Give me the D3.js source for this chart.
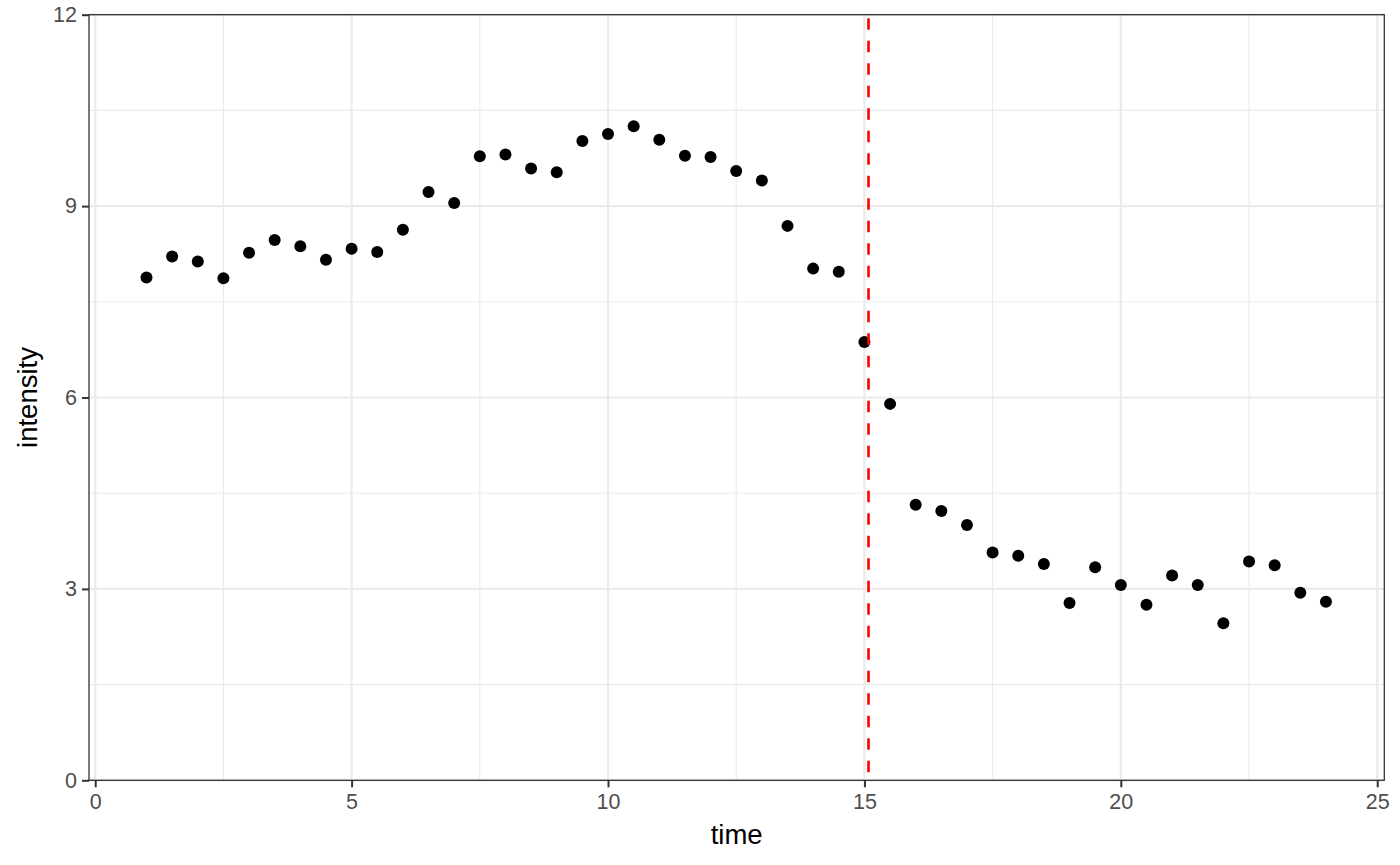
<!DOCTYPE html>
<html>
<head>
<meta charset="utf-8">
<script src="https://cdn.jsdelivr.net/npm/d3@7"></script>
<style>
  html, body { margin: 0; padding: 0; background: #fff; }
  svg { display: block; font-family: "Liberation Sans", Arial, Helvetica, sans-serif; }
</style>
</head>
<body>
<svg id="chart" width="1400" height="865"></svg>
<script>
// ---- data ----
const times = [1, 1.5, 2, 2.5, 3, 3.5, 4, 4.5, 5, 5.5, 6, 6.5, 7, 7.5, 8, 8.5, 9, 9.5,
  10, 10.5, 11, 11.5, 12, 12.5, 13, 13.5, 14, 14.5, 15, 15.5, 16, 16.5, 17, 17.5,
  18, 18.5, 19, 19.5, 20, 20.5, 21, 21.5, 22, 22.5, 23, 23.5, 24];
const intensity = [7.88, 8.21, 8.13, 7.87, 8.27, 8.47, 8.37, 8.16, 8.33, 8.28, 8.63, 9.22, 9.05, 9.78, 9.81, 9.59, 9.53, 10.02,
  10.13, 10.25, 10.04, 9.79, 9.77, 9.55, 9.40, 8.69, 8.02, 7.97, 6.87, 5.90, 4.32, 4.22, 4.00, 3.57,
  3.52, 3.39, 2.78, 3.34, 3.06, 2.75, 3.21, 3.06, 2.46, 3.43, 3.37, 2.94, 2.80];
const changepoint = [15.08];
const xTicks = [0, 5, 10, 15, 20, 25];
const xMinor = [2.5, 7.5, 12.5, 17.5, 22.5];
const yTicks = [0, 3, 6, 9, 12];
const yMinor = [1.5, 4.5, 7.5, 10.5];
const xTitle = "time";
const yTitle = "intensity";

// ---- layout ----
const svg = d3.select("#chart");
const L = 89, R = 1384.3, T = 14.7, B = 780.3;
const x = d3.scaleLinear().domain([-0.121, 25.138]).range([L, R]);
const y = d3.scaleLinear().domain([0, 12]).range([B, T]);

// grid
const g = svg.append("g");
g.selectAll(".xmin").data(xMinor).enter().append("line")
  .attr("x1", d => x(d)).attr("x2", d => x(d)).attr("y1", T).attr("y2", B)
  .attr("stroke", "#EBEBEB").attr("stroke-width", 1.1);
g.selectAll(".ymin").data(yMinor).enter().append("line")
  .attr("y1", d => y(d)).attr("y2", d => y(d)).attr("x1", L).attr("x2", R)
  .attr("stroke", "#EBEBEB").attr("stroke-width", 1.1);
g.selectAll(".xmaj").data(xTicks).enter().append("line")
  .attr("x1", d => x(d)).attr("x2", d => x(d)).attr("y1", T).attr("y2", B)
  .attr("stroke", "#EBEBEB").attr("stroke-width", 2.2);
g.selectAll(".ymaj").data(yTicks).enter().append("line")
  .attr("y1", d => y(d)).attr("y2", d => y(d)).attr("x1", L).attr("x2", R)
  .attr("stroke", "#EBEBEB").attr("stroke-width", 2.2);

// points
svg.append("g").selectAll("circle").data(times).enter().append("circle")
  .attr("cx", d => x(d)).attr("cy", (d, i) => y(intensity[i]))
  .attr("r", 6).attr("fill", "#000");

// changepoint line
svg.append("g").selectAll("line").data(changepoint).enter().append("line")
  .attr("x1", d => x(d)).attr("x2", d => x(d)).attr("y1", T).attr("y2", B)
  .attr("stroke", "#FF0000").attr("stroke-width", 2.6)
  .attr("stroke-dasharray", "11.5,11").attr("stroke-dashoffset", -3.5);

// panel border
svg.append("rect").attr("x", L).attr("y", T).attr("width", R - L).attr("height", B - T)
  .attr("fill", "none").attr("stroke", "#333333").attr("stroke-width", 1.3);

// axes
const xAxis = svg.append("g").attr("transform", `translate(0,${B})`)
  .call(d3.axisBottom(x).tickValues(xTicks).tickSize(7).tickPadding(6).tickFormat(d3.format("d")));
const yAxis = svg.append("g").attr("transform", `translate(${L},0)`)
  .call(d3.axisLeft(y).tickValues(yTicks).tickSize(7).tickPadding(5).tickFormat(d3.format("d")));
[xAxis, yAxis].forEach(a => {
  a.select(".domain").remove();
  a.selectAll(".tick line").attr("stroke", "#333333").attr("stroke-width", 2);
  a.selectAll(".tick text").attr("fill", "#4D4D4D").attr("font-size", 21.5)
    .attr("font-family", "'Liberation Sans', Arial, Helvetica, sans-serif");
});

// titles
svg.append("text").attr("x", (L + R) / 2).attr("y", 844).attr("text-anchor", "middle")
  .attr("font-size", 27.5).attr("fill", "#000").text(xTitle);
svg.append("text").attr("transform", `translate(37,${(T + B) / 2}) rotate(-90)`)
  .attr("text-anchor", "middle").attr("font-size", 27.5).attr("fill", "#000").text(yTitle);
</script>
</body>
</html>
